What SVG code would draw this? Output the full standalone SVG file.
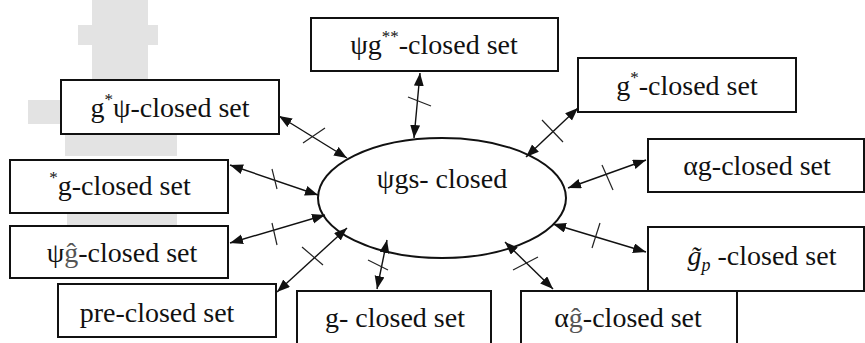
<svg xmlns="http://www.w3.org/2000/svg" width="865" height="343" viewBox="0 0 865 343">
<style>
.box{fill:#fff;stroke:#111;stroke-width:2}
text{font-family:'Liberation Serif','Times New Roman',serif;font-size:28px;fill:#111;text-anchor:middle}
.sup{font-size:17px}
.con{stroke:#111;stroke-width:1.4;fill:none;marker-start:url(#ah);marker-end:url(#ah)}
.tick{stroke:#222;stroke-width:1.2}
.bg{fill:#e3e3e3}
</style>
<defs>
<marker id="ah" markerUnits="userSpaceOnUse" markerWidth="14" markerHeight="11" refX="13" refY="5" orient="auto-start-reverse">
<path d="M0,0 L13,5 L0,10 z" fill="#111"/>
</marker>
</defs>
<rect width="865" height="343" fill="#fff"/>
<g id="background">
<rect class="bg" x="92" y="0" width="56" height="82"/>
<rect class="bg" x="78" y="25" width="80" height="20"/>
<rect class="bg" x="28" y="100" width="40" height="24"/>
<rect class="bg" x="65" y="132" width="112" height="24"/>
<rect class="bg" x="67" y="211" width="110" height="17"/>
</g>
<g id="connectors">
<line class="con" x1="420" y1="73" x2="414" y2="138"/>
<line class="tick" x1="408" y1="97" x2="431" y2="106"/>
<line class="con" x1="279" y1="116" x2="347" y2="158"/>
<line class="tick" x1="303" y1="143" x2="325" y2="128"/>
<line class="con" x1="578" y1="108" x2="526" y2="157"/>
<line class="tick" x1="542" y1="120" x2="563" y2="142"/>
<line class="con" x1="230" y1="165" x2="318" y2="195"/>
<line class="tick" x1="272" y1="169" x2="277" y2="189"/>
<line class="con" x1="230" y1="243" x2="325" y2="215"/>
<line class="tick" x1="272" y1="223" x2="277" y2="245"/>
<line class="con" x1="277" y1="292" x2="347" y2="228"/>
<line class="tick" x1="302" y1="247" x2="323" y2="265"/>
<line class="con" x1="387" y1="240" x2="377" y2="289"/>
<line class="tick" x1="368" y1="260" x2="388" y2="270"/>
<line class="con" x1="505" y1="242" x2="553" y2="289"/>
<line class="tick" x1="513" y1="270" x2="538" y2="257"/>
<line class="con" x1="553" y1="224" x2="646" y2="252"/>
<line class="tick" x1="592" y1="248" x2="600" y2="223"/>
<line class="con" x1="568" y1="188" x2="646" y2="160"/>
<line class="tick" x1="602" y1="165" x2="613" y2="190"/>
</g>
<g id="center">
<ellipse cx="442" cy="198" rx="124" ry="60" fill="none" stroke="#111" stroke-width="2"/>
<text x="442" y="188">ψgs- closed</text>
</g>
<g id="psi-g-star-star">
<rect class="box" x="311" y="18" width="247" height="53"/>
<text x="434" y="54">ψg<tspan class="sup" dy="-12">**</tspan><tspan dy="12">-closed set</tspan></text>
</g>
<g id="g-star">
<rect class="box" x="578" y="58" width="218" height="54"/>
<text x="687" y="95">g<tspan class="sup" dy="-12">*</tspan><tspan dy="12">-closed set</tspan></text>
</g>
<g id="g-star-psi">
<rect class="box" x="61" y="80" width="218" height="54"/>
<text x="170" y="117">g<tspan class="sup" dy="-12">*</tspan><tspan dy="12">ψ-closed set</tspan></text>
</g>
<g id="star-g">
<rect class="box" x="10" y="160" width="218" height="53"/>
<text x="120" y="195"><tspan class="sup" dy="-12">*</tspan><tspan dy="12">g-closed set</tspan></text>
</g>
<g id="psi-g-hat">
<rect class="box" x="10" y="226" width="218" height="52"/>
<text x="122" y="262">ψ<tspan fill="#555">ĝ</tspan>-closed set</text>
</g>
<g id="pre-closed">
<rect class="box" x="58" y="284" width="218" height="53"/>
<text x="157" y="322">pre-closed set</text>
</g>
<g id="g-closed">
<rect class="box" x="297" y="291" width="194" height="55"/>
<text x="395" y="327">g- closed set</text>
</g>
<g id="alpha-g-hat">
<rect class="box" x="521" y="291" width="216" height="55"/>
<text x="628" y="327">α<tspan fill="#555">ĝ</tspan>-closed set</text>
</g>
<g id="g-tilde-p">
<rect class="box" x="648" y="227" width="216" height="64"/>
<text x="762" y="265"><tspan font-style="italic">g̃</tspan><tspan font-style="italic" font-size="18" dy="6">p</tspan><tspan dy="-6"> -closed set</tspan></text>
</g>
<g id="alpha-g">
<rect class="box" x="648" y="139" width="216" height="53"/>
<text x="757" y="175">αg-closed set</text>
</g>
</svg>
